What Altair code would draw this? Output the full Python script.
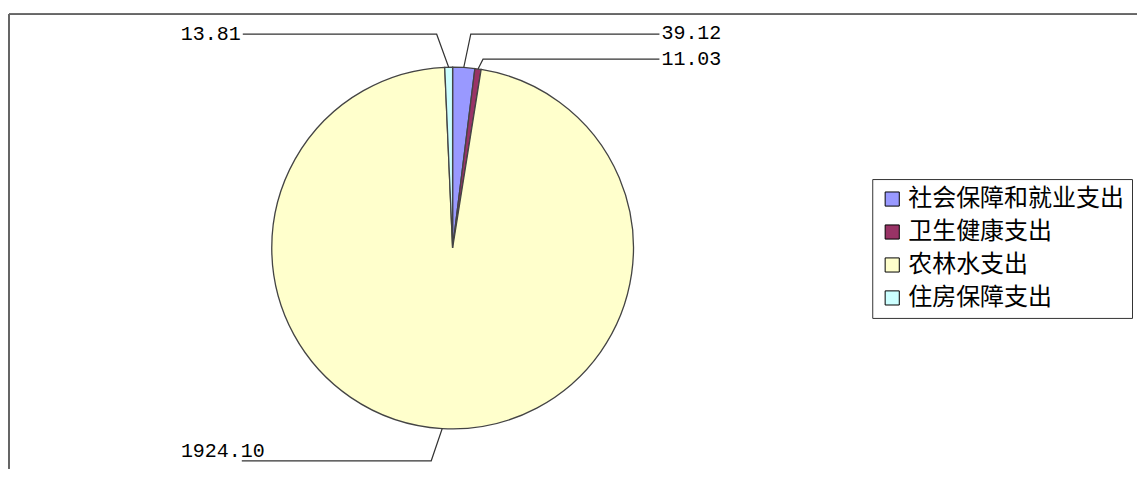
import math
import altair as alt
import pandas as pd

# ---- data ----
categories = ["社会保障和就业支出", "卫生健康支出", "农林水支出", "住房保障支出"]
values = [39.12, 11.03, 1924.10, 13.81]
colors = ["#9999FF", "#993366", "#FFFFCC", "#CCFFFF"]

# ---- layout ----
W, H = 1130, 461
CX, CY, R = 445, 240, 181
# per slice: side of label, label line y, elbow x-offset from edge point, line end x, text y
label_layout = {
    "社会保障和就业支出": dict(side="right", ly=26, dx=7, lx=652, ty=25),
    "卫生健康支出": dict(side="right", ly=51, dx=5, lx=652, ty=51),
    "农林水支出": dict(side="left", ly=453, dx=-11, lx=234, ty=443),
    "住房保障支出": dict(side="left", ly=26, dx=-12, lx=235, ty=26),
}

total = sum(values)
df = pd.DataFrame({"category": categories, "value": values, "idx": list(range(len(values)))})

line_rows, text_rows = [], []
cum = 0.0
for cat, v in zip(categories, values):
    mid = (cum + v / 2) / total * 2 * math.pi
    cum += v
    ex = CX + R * math.sin(mid)
    ey = CY - R * math.cos(mid)
    L = label_layout[cat]
    line_rows += [
        dict(category=cat, seq=0, px=ex, py=ey),
        dict(category=cat, seq=1, px=ex + L["dx"], py=L["ly"]),
        dict(category=cat, seq=2, px=L["lx"], py=L["ly"]),
    ]
    if L["side"] == "right":
        tx = L["lx"] + 2
    else:
        tx = L["lx"] - 2 if cat != "农林水支出" else L["lx"] + 23
    text_rows.append(dict(category=cat, side=L["side"], tx=tx, ty=L["ty"], label=f"{v:.2f}"))

lines_df = pd.DataFrame(line_rows)
text_df = pd.DataFrame(text_rows)

xs = alt.Scale(domain=[0, W], range=[0, W])
ys = alt.Scale(domain=[0, H], range=[0, H])

pie = alt.Chart(df).mark_arc(radius=R, stroke="#444444", strokeWidth=1.3).encode(
    theta=alt.Theta("value:Q", stack=True),
    color=alt.Color(
        "category:N",
        sort=categories,
        scale=alt.Scale(domain=categories, range=colors),
        legend=alt.Legend(
            title=None,
            orient="none",
            legendX=865,
            legendY=171,
            strokeColor="#333333",
            fillColor="white",
            padding=8,
            symbolType="square",
            symbolSize=200,
            symbolStrokeColor="black",
            symbolStrokeWidth=1,
            labelFont="Noto Sans CJK SC",
            labelFontSize=24,
            labelColor="black",
            labelLimit=400,
            labelExpr="datum.label + '\u2009\u2009'",
            rowPadding=9,
            labelOffset=4,
        ),
    ),
    order=alt.Order("idx:Q"),
    x=alt.value(CX),
    y=alt.value(CY),
)

leaders = alt.Chart(lines_df).mark_line(color="#333333", strokeWidth=1.2).encode(
    x=alt.X("px:Q", scale=xs, axis=None),
    y=alt.Y("py:Q", scale=ys, axis=None),
    detail="category:N",
    order="seq:Q",
)

text_right = alt.Chart(text_df).transform_filter(alt.datum.side == "right").mark_text(
    align="left", baseline="middle", font="Liberation Mono", fontSize=20, color="black"
).encode(x=alt.X("tx:Q", scale=xs, axis=None), y=alt.Y("ty:Q", scale=ys, axis=None), text="label:N")

text_left = alt.Chart(text_df).transform_filter(alt.datum.side == "left").mark_text(
    align="right", baseline="middle", font="Liberation Mono", fontSize=20, color="black"
).encode(x=alt.X("tx:Q", scale=xs, axis=None), y=alt.Y("ty:Q", scale=ys, axis=None), text="label:N")

frame_left = alt.Chart(df).mark_rule(color="#666666", strokeWidth=1.5).encode(
    x=alt.value(1), y=alt.value(6), y2=alt.value(H)
)
frame_top = alt.Chart(df).mark_rule(color="#666666", strokeWidth=1.5).encode(
    x=alt.value(1), x2=alt.value(W), y=alt.value(6)
)

chart = (
    alt.layer(frame_left, frame_top, pie, leaders, text_right, text_left)
    .properties(width=W, height=H, padding=0, background="white")
    .configure_view(strokeWidth=0)
)

chart.save("out.html", embed_options={"renderer": "svg", "actions": False})
